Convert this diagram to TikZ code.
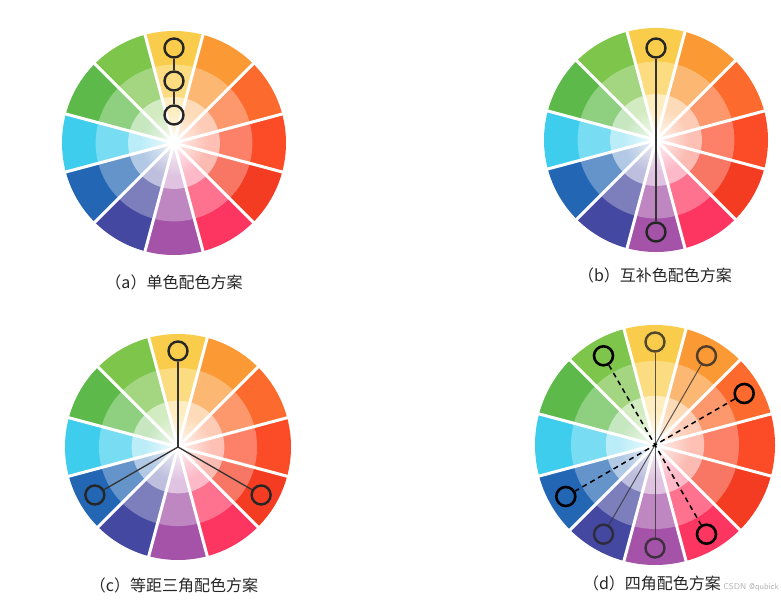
\documentclass[tikz,border=0pt]{standalone}
\usepackage{fontspec}
\newfontfamily\cjk{Noto Sans CJK SC}
\usetikzlibrary{calc,fadings}

\definecolor{hueA}{HTML}{F9CD4B}
\definecolor{hueB}{HTML}{FB9935}
\definecolor{hueC}{HTML}{FC6B2D}
\definecolor{hueD}{HTML}{FB4B27}
\definecolor{hueE}{HTML}{F43C22}
\definecolor{hueF}{HTML}{FD3661}
\definecolor{hueG}{HTML}{A453A8}
\definecolor{hueH}{HTML}{4548A1}
\definecolor{hueI}{HTML}{2266B4}
\definecolor{hueJ}{HTML}{3ECDEC}
\definecolor{hueK}{HTML}{5DBA4A}
\definecolor{hueL}{HTML}{7DC54B}

\tikzfading[name=glow, inner color=transparent!0, outer color=transparent!100]

\tikzset{
  pin/.style={circle, draw=black!85, line width=2.4pt, minimum size=19pt, inner sep=0pt},
  softpin/.style={pin, draw opacity=0.8},
  link/.style={draw=black!80, line width=1.3pt},
  dashlink/.style={draw=black, line width=1.5pt, dash pattern=on 5pt off 4pt},
  subtitle/.style={font=\cjk\fontsize{16}{18}\selectfont, text=black!85}
}

\begin{document}
\begin{tikzpicture}[x=1pt,y=1pt]
\useasboundingbox (0,0) rectangle (781,601);

% the four colour wheels
\foreach \w/\cx/\cy/\R in {A/174/458/112, B/656/461/112, C/178/154/113, D/655/156/120}{
  \coordinate (\w) at (\cx,\cy);
  \foreach \hue [count=\k from 0] in {hueA,hueB,hueC,hueD,hueE,hueF,hueG,hueH,hueI,hueJ,hueK,hueL}{
    \pgfmathsetmacro\ang{90-30*\k}
    \fill[\hue] (\cx,\cy) -- ++(\ang+15:\R) arc[start angle=\ang+15, end angle=\ang-15, radius=\R] -- cycle;
    \fill[\hue!70!white] (\cx,\cy) -- ++(\ang+15:0.7*\R) arc[start angle=\ang+15, end angle=\ang-15, radius=0.7*\R] -- cycle;
    \fill[\hue!35!white] (\cx,\cy) -- ++(\ang+15:0.41*\R) arc[start angle=\ang+15, end angle=\ang-15, radius=0.41*\R] -- cycle;
  }
  \fill[white, fill opacity=0.8, path fading=glow] (\cx,\cy) circle (0.3*\R);
  \foreach \a in {15,45,...,345}
    \draw[white, line width=3pt] (\cx,\cy) -- ++(\a:\R+2);
}

% (a) monochrome
\node[pin] (a1) at ($(A)+(90:95)$) {};
\node[pin] (a2) at ($(A)+(90:62)$) {};
\node[pin] (a3) at ($(A)+(90:28)$) {};
\draw[link] (a1) -- (a2) -- (a3);

% (b) complementary
\node[pin] (b1) at ($(B)+(90:92)$) {};
\node[pin] (b2) at ($(B)+(270:92)$) {};
\draw[link] (b1) -- (b2);

% (c) triad
\node[pin] (c1) at ($(C)+(90:96)$) {};
\node[pin] (c2) at ($(C)+(210:96)$) {};
\node[pin] (c3) at ($(C)+(330:96)$) {};
\draw[link] (C) -- (c1);
\draw[link] (C) -- (c2);
\draw[link] (C) -- (c3);

% (d) tetrad
\node[softpin] (d1) at ($(D)+(90:103)$) {};
\node[softpin] (d2) at ($(D)+(270:103)$) {};
\node[softpin] (d3) at ($(D)+(60:103)$) {};
\node[softpin] (d4) at ($(D)+(240:103)$) {};
\node[pin, draw=black, line width=2.6pt] (d5) at ($(D)+(120:103)$) {};
\node[pin, draw=black, line width=2.6pt] (d6) at ($(D)+(300:103)$) {};
\node[pin, draw=black, line width=2.6pt] (d7) at ($(D)+(30:103)$) {};
\node[pin, draw=black, line width=2.6pt] (d8) at ($(D)+(210:103)$) {};
\draw[link, line width=1pt, draw opacity=0.8] (d1) -- (d2);
\draw[link, line width=1pt, draw opacity=0.8] (d3) -- (d4);
\draw[dashlink] (d5) -- (d6);
\draw[dashlink] (d7) -- (d8);

% captions
\node[subtitle] (capA) at (174,319) {（a）单色配色方案};
\node[subtitle] (capB) at (655,326) {（b）互补色配色方案};
\node[subtitle] (capC) at (174,16) {（c）等距三角配色方案};
\node[subtitle] (capD) at (652,18) {（d）四角配色方案};
\node[font=\sffamily\fontsize{8.5}{10}\selectfont, text=black!30, anchor=east, inner sep=1pt] (mark) at (780,14) {CSDN @qubick};
\end{tikzpicture}
\end{document}
